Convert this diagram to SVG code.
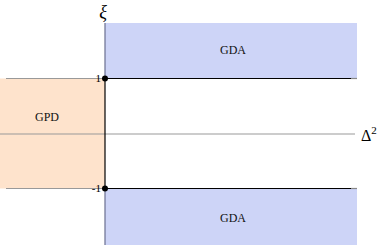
<svg xmlns="http://www.w3.org/2000/svg" width="382" height="245" viewBox="0 0 382 245">
<style>
.lbl{font-family:"Liberation Serif",serif;font-size:12px;fill:#111;text-anchor:middle}
.gda{fill:#cdd4f7}
.gpd{fill:#fee3cc}
.ax{stroke:#000;stroke-width:1.2;fill:none}
.gr{stroke:#999;stroke-width:1;fill:none}
</style>
<g id="gda-top">
<rect class="gda" x="105" y="23" width="252" height="55.5"/>
<text class="lbl" x="233" y="54">GDA</text>
</g>
<g id="gda-bottom">
<rect class="gda" x="105" y="188.5" width="252" height="56.5"/>
<text class="lbl" x="233" y="222">GDA</text>
</g>
<g id="gpd">
<rect class="gpd" x="0" y="78.5" width="105" height="110"/>
<text class="lbl" x="47" y="121">GPD</text>
</g>
<g id="connectors">
<line class="gr" x1="0" y1="134" x2="355" y2="134"/>
<line class="gr" x1="6" y1="78.5" x2="105" y2="78.5"/>
<line class="gr" x1="6" y1="188.5" x2="105" y2="188.5"/>
<line class="ax" x1="105" y1="78.5" x2="351" y2="78.5"/>
<line class="ax" x1="105" y1="188.5" x2="351" y2="188.5"/>
<line x1="351" y1="78.5" x2="357" y2="78.5" stroke="#888" stroke-width="1.2"/>
<line x1="351" y1="188.5" x2="357" y2="188.5" stroke="#888" stroke-width="1.2"/>
<line x1="105" y1="23" x2="105" y2="78.5" stroke="#6a6f90" stroke-width="1.2"/>
<line x1="105" y1="188.5" x2="105" y2="245" stroke="#6a6f90" stroke-width="1.2"/>
<line class="ax" x1="105" y1="78.5" x2="105" y2="188.5"/>
<circle cx="105" cy="78.5" r="3" fill="#000"/>
<circle cx="105" cy="188.5" r="3" fill="#000"/>
</g>
<g id="axis-labels">
<text x="101" y="82" font-family="Liberation Serif,serif" font-size="11" text-anchor="end">1</text>
<text x="101" y="192" font-family="Liberation Serif,serif" font-size="11" text-anchor="end">-1</text>
<text x="103" y="18" font-family="Liberation Serif,serif" font-size="18" font-style="italic" text-anchor="middle">ξ</text>
<text x="361" y="141" font-family="Liberation Serif,serif" font-size="16">Δ<tspan font-size="11" dy="-7">2</tspan></text>
</g>
</svg>
